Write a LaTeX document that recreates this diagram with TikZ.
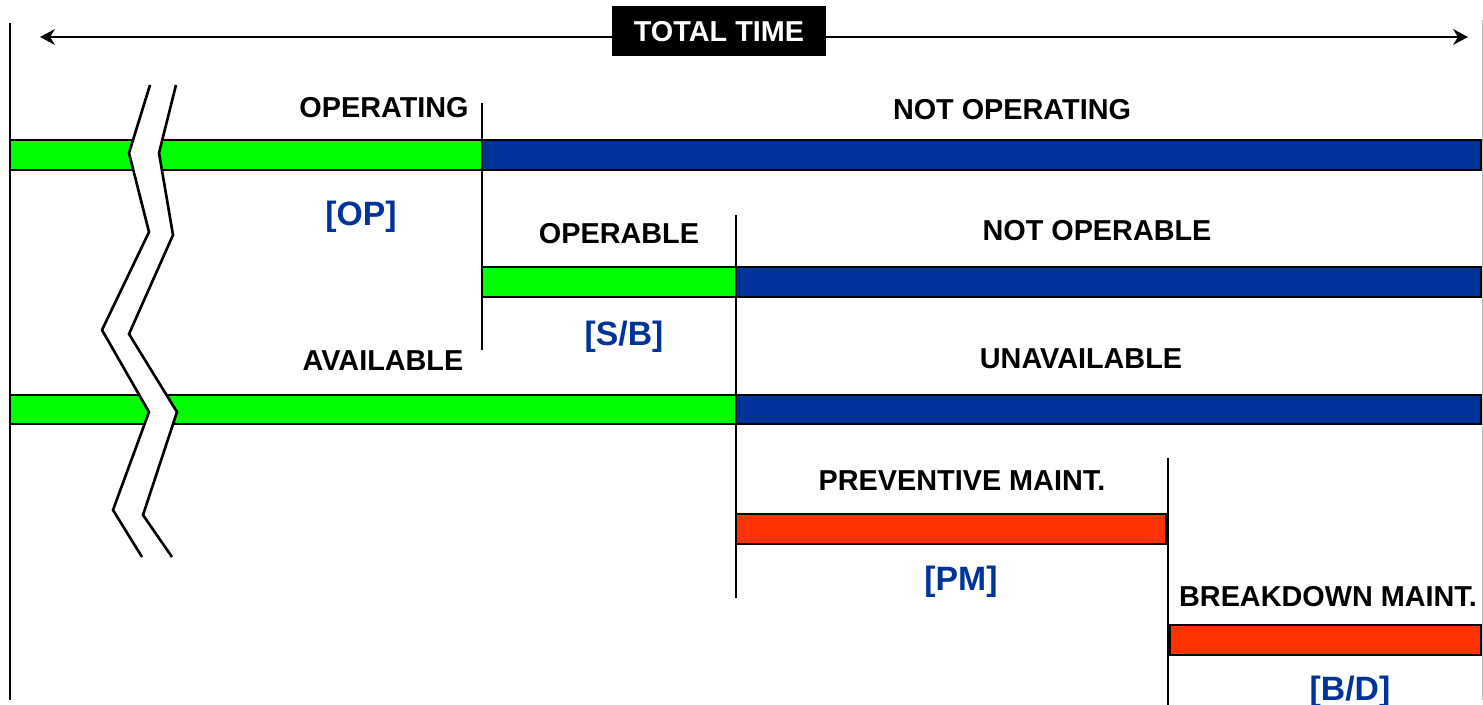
\documentclass[tikz,border=0pt]{standalone}
\usepackage{fontspec}
\setmainfont{Liberation Sans}
\usetikzlibrary{arrows.meta}
\definecolor{opgreen}{HTML}{00FF00}
\definecolor{offblue}{HTML}{003399}
\definecolor{maintred}{HTML}{FF3300}
\definecolor{tagblue}{HTML}{003399}
\begin{document}
\begin{tikzpicture}[x=0.02cm,y=-0.02cm,
  bar/.style={draw=black,line width=1.6pt},
  divider/.style={draw=black,line width=1.4pt},
  breakline/.style={draw=black,line width=1.5pt,line join=miter},
  lbl/.style={anchor=base,inner sep=0pt,font=\fontsize{16.4}{18}\selectfont\bfseries},
  tag/.style={anchor=base,inner sep=0pt,text=tagblue,font=\fontsize{19.2}{22}\selectfont\bfseries}]
\useasboundingbox (0,0) rectangle (1483,705);

% time arrow and its title box
\coordinate (tl) at (40,37);
\coordinate (tr) at (1468,37);
\draw[line width=1.1pt,{Stealth[length=8.5pt,width=9pt]}-{Stealth[length=8.5pt,width=9pt]}] (tl) -- (tr);
\node[fill=black,text=white,inner sep=0pt,minimum width=4.28cm,minimum height=1cm,
      text height=11.8pt,text depth=0pt,font=\fontsize{16.4}{18}\selectfont\bfseries]
      (total) at (719,31) {TOTAL TIME};

% operating / not operating
\draw[bar,fill=opgreen] (10,140) rectangle (482,170);
\draw[bar,fill=offblue] (482,140) rectangle (1481,170);
% operable / not operable
\draw[bar,fill=opgreen] (482,267) rectangle (736,297);
\draw[bar,fill=offblue] (736,267) rectangle (1481,297);
% available / unavailable
\draw[bar,fill=opgreen] (10,395) rectangle (736,424);
\draw[bar,fill=offblue] (736,395) rectangle (1481,424);
% maintenance
\draw[bar,fill=maintred] (736,514) rectangle (1166,544);
\draw[bar,fill=maintred] (1170,625) rectangle (1481,655);

% time-axis break
\fill[white] (150,85) -- (129,153) -- (149,232) -- (102,330) -- (149,412) -- (113,510) -- (142,557)
  -- (172,557) -- (143,515) -- (177,412) -- (129,334) -- (173,235) -- (159,153) -- (176,85) -- cycle;
\draw[breakline] (150,85) -- (129,153) -- (149,232) -- (102,330) -- (149,412) -- (113,510) -- (142,557);
\draw[breakline] (176,85) -- (159,153) -- (173,235) -- (129,334) -- (177,412) -- (143,515) -- (172,557);

% dividers and frame lines
\draw[divider] (482,103) -- (482,350);
\draw[divider] (736,215) -- (736,598);
\draw[divider] (1168,458) -- (1168,705);
\draw[black,line width=1.7pt] (10,23) -- (10,700);
\draw[gray!50,line width=0.6pt] (1482.5,20) -- (1482.5,700);

% labels
\node[lbl] (operating) at (384,118) {OPERATING};
\node[lbl] (notoperating) at (1012,120) {NOT OPERATING};
\node[lbl] (operable) at (619,244) {OPERABLE};
\node[lbl] (notoperable) at (1097,241) {NOT OPERABLE};
\node[lbl] (available) at (383,371) {AVAILABLE};
\node[lbl] (unavailable) at (1081,369) {UNAVAILABLE};
\node[lbl] (pmaint) at (962,490) {PREVENTIVE MAINT.};
\node[lbl] (bdmaint) at (1328,606) {BREAKDOWN MAINT.};

\node[tag] (op) at (361,226) {[OP]};
\node[tag] (sb) at (624,346) {[S/B]};
\node[tag] (pm) at (961,590) {[PM]};
\node[tag] (bd) at (1350,700) {[B/D]};
\end{tikzpicture}
\end{document}
